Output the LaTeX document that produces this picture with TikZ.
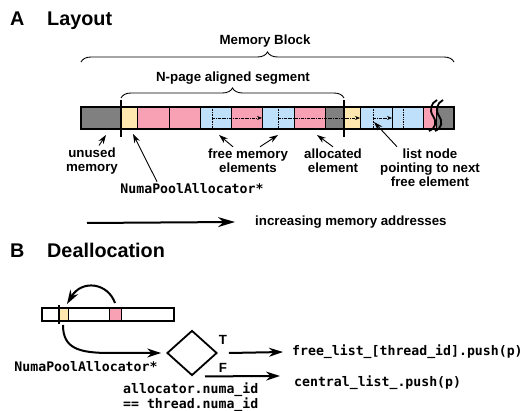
\documentclass[tikz,border=0pt]{standalone}
\usepackage{fontspec}
\setsansfont{Liberation Sans}
\setmonofont{DejaVu Sans Mono}
\usetikzlibrary{arrows.meta,decorations.pathreplacing,shapes.geometric}
\definecolor{unusedgray}{RGB}{128,128,128}
\definecolor{headeryellow}{RGB}{255,232,176}
\definecolor{allocpink}{RGB}{249,161,180}
\definecolor{freeblue}{RGB}{190,224,250}

\begin{document}
\begin{tikzpicture}[x=1pt, y=-1pt,
    paneltitle/.style={font=\sffamily\bfseries\fontsize{19.8}{22}\selectfont, inner sep=0pt, anchor=base west},
    lbl/.style={font=\sffamily\bfseries\fontsize{13.3}{14.2}\selectfont, align=center, inner sep=0pt},
    codelbl/.style={font=\ttfamily\bfseries\fontsize{13.2}{12}\selectfont, inner sep=0pt},
    cell/.style={draw=black, line width=0.7pt},
    cellunused/.style={cell, fill=unusedgray},
    cellheader/.style={cell, fill=headeryellow},
    cellalloc/.style={cell, fill=allocpink},
    cellfree/.style={cell, fill=freeblue},
    baroutline/.style={draw=black, line width=2pt},
    segmark/.style={line width=1.8pt},
    breakline/.style={line width=1.8pt},
    nextlink/.style={line width=0.7pt, densely dotted},
    listlink/.style={line width=0.7pt, densely dash dot, -{Stealth[length=5pt,width=4pt]}},
    pointer/.style={line width=0.9pt, -{Stealth[length=9pt,width=6pt]}},
    bigarrow/.style={line width=2pt, -{Stealth[length=14pt,width=9pt]}},
    bracelabel/.style={decorate, decoration={brace, amplitude=10pt}, line width=0.9pt}]

  \useasboundingbox (0,0) rectangle (522,411);

  % Panel A: layout of a memory block
  \node[paneltitle] (titleA) at (10,26) {A};
  \node[paneltitle] (nameA) at (47,26) {Layout};

  % Draw the cells of the memory block
  \draw[cellunused] (81,107) rectangle (121,129);
  \draw[cellheader] (121,107) rectangle (137,129);
  \draw[cellalloc] (137,107) rectangle (169,129);
  \draw[cellalloc] (169,107) rectangle (200,129);
  \draw[cellfree] (200,107) rectangle (231,129);
  \draw[cellalloc] (231,107) rectangle (262,129);
  \draw[cellfree] (262,107) rectangle (294,129);
  \draw[cellalloc] (294,107) rectangle (325,129);
  \draw[cellunused] (325,107) rectangle (344,129);
  \draw[cellheader] (344,107) rectangle (360,129);
  \draw[cellfree] (360,107) rectangle (392,129);
  \draw[cellfree] (392,107) rectangle (423,129);
  \draw[cellalloc] (423,107) rectangle (436,129);
  \draw[cellunused] (436,107) rectangle (454,129);

  % Draw the list nodes inside the free cells
  \draw[nextlink] (212,107) -- (212,129);
  \draw[nextlink] (278,107) -- (278,129);
  \draw[nextlink] (373,107) -- (373,129);
  \draw[nextlink] (403,107) -- (403,129);
  \draw[listlink] (212,118) -- (262,118);
  \draw[listlink] (278,118) -- (360,118);
  \draw[listlink] (373,118) -- (392,118);

  \draw[baroutline] (81,107) rectangle (454,129);
  \draw[segmark] (121,100) -- (121,137);
  \draw[segmark] (344,100) -- (344,137);

  % Break marks near the end of the block
  \draw[breakline] (437,100) .. controls (431,103) and (429,110) .. (433,116)
                   .. controls (437,122) and (436,128) .. (429,131);
  \draw[breakline] (443,100) .. controls (437,103) and (435,110) .. (439,116)
                   .. controls (443,122) and (442,128) .. (435,131);

  % Braces over the block and the segment
  \draw[bracelabel] (81,62) -- (454,62);
  \node[lbl, anchor=base] (memblock) at (265,45) {Memory Block};
  \draw[bracelabel] (121,98) -- (344,98);
  \node[lbl, anchor=base] (segment) at (233,82) {N-page aligned segment};

  % Labels under the block
  \node[lbl] (lblunused) at (92,161) {unused\\memory};
  \node[lbl] (lblfree) at (248,161) {free memory\\elements};
  \node[lbl] (lblalloc) at (333,161) {allocated\\element};
  \node[lbl] (lbllist) at (430,168) {list node\\pointing to next\\free element};
  \node[codelbl] (lblnumaA) at (192,189) {NumaPoolAllocator*};

  \coordinate (unusedtip) at (106,135);
  \coordinate (headertip) at (133,134);
  \coordinate (freetipA) at (219,135);
  \coordinate (freetipB) at (278,135);
  \coordinate (alloctip) at (317,135);
  \coordinate (listtip) at (374,122);

  \draw[pointer] ([xshift=7pt,yshift=2pt]lblunused.north) -- (unusedtip);
  \draw[pointer] ([xshift=-35pt,yshift=2pt]lblnumaA.north) -- (headertip);
  \draw[pointer] ([xshift=-15pt,yshift=2pt]lblfree.north) -- (freetipA);
  \draw[pointer] ([xshift=12pt,yshift=2pt]lblfree.north) -- (freetipB);
  \draw[pointer] ([yshift=2pt]lblalloc.north) -- (alloctip);
  \draw[pointer] ([xshift=-33pt,yshift=2pt]lbllist.north) -- (listtip);

  % Direction of the addresses
  \coordinate (addrstart) at (87,223);
  \node[lbl, anchor=west] (lbladdr) at (255,222) {increasing memory addresses};
  \draw[bigarrow, -{Stealth[length=17pt,width=10pt]}] (addrstart) -- ([xshift=-20pt]lbladdr.west);

  % Panel B: deallocation
  \node[paneltitle] (titleB) at (10,258) {B};
  \node[paneltitle] (nameB) at (47,258) {Deallocation};

  \draw[cellheader] (59,308) rectangle (68,321);
  \draw[cellalloc] (109,308) rectangle (121,321);
  \draw[baroutline] (42,308) rectangle (174,321);
  \draw[segmark] (59,305) -- (59,324);

  \coordinate (freedcell) at (115,303);
  \coordinate (headercell) at (67,304);
  \coordinate (headerfoot) at (63,325);

  \draw[bigarrow] (freedcell) .. controls (108,283) and (82,279) .. (headercell);

  % Decision on the numa node
  \node[draw, diamond, line width=1.8pt, minimum width=50pt, minimum height=45pt, inner sep=0pt] (check) at (192,353) {};
  \draw[bigarrow] (headerfoot) .. controls (63,348) and (78,353) .. (110,353) -- ([xshift=-5pt]check.west);

  \node[codelbl] (lblnumaB) at (86,367) {NumaPoolAllocator*};
  \node[codelbl, align=left, anchor=west] (cond) at (123,397) {allocator.numa\_id\\== thread.numa\_id};
  \node[codelbl, anchor=west] (pushlocal) at (292,352) {free\_list\_[thread\_id].push(p)};
  \node[codelbl, anchor=west] (pushcentral) at (294,383) {central\_list\_.push(p)};
  \node[lbl] (lbltrue) at (223,340) {T};
  \node[lbl] (lblfalse) at (223,368) {F};

  \draw[bigarrow] ([xshift=11pt]check.east) -- ([xshift=-9pt]pushlocal.west);
  \draw[bigarrow] ([xshift=13pt]check.south) -- ([xshift=-14pt,yshift=7pt]pushcentral.west);
\end{tikzpicture}
\end{document}
